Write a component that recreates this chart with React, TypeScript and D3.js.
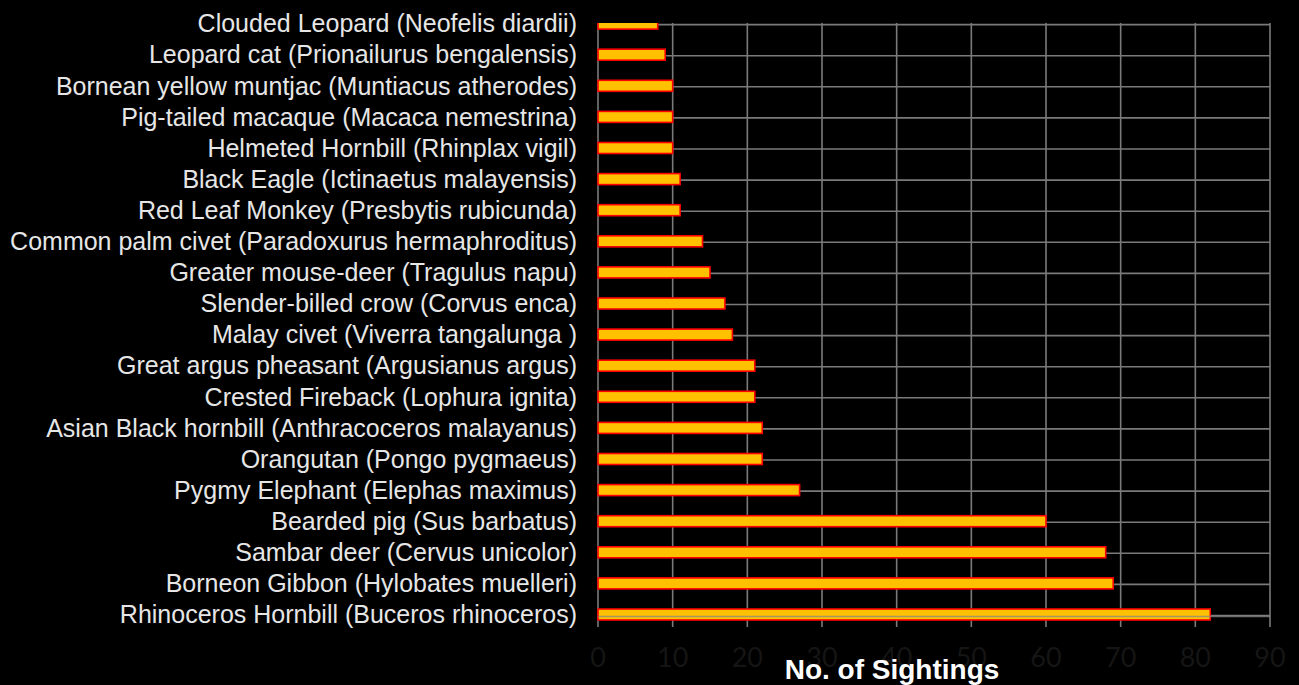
import * as d3 from "d3";
import { useEffect, useRef } from "react";

// species, top to bottom as drawn
const species = [
  "Clouded Leopard (Neofelis diardii)",
  "Leopard cat (Prionailurus bengalensis)",
  "Bornean yellow muntjac (Muntiacus atherodes)",
  "Pig-tailed macaque (Macaca nemestrina)",
  "Helmeted Hornbill (Rhinplax vigil)",
  "Black Eagle (Ictinaetus malayensis)",
  "Red Leaf Monkey (Presbytis rubicunda)",
  "Common palm civet (Paradoxurus hermaphroditus)",
  "Greater mouse-deer (Tragulus napu)",
  "Slender-billed crow (Corvus enca) ",
  "Malay civet (Viverra tangalunga )",
  "Great argus pheasant (Argusianus argus)",
  "Crested Fireback (Lophura ignita)",
  "Asian Black hornbill (Anthracoceros malayanus)",
  "Orangutan (Pongo pygmaeus)",
  "Pygmy Elephant (Elephas maximus)",
  "Bearded pig (Sus barbatus)",
  "Sambar deer (Cervus unicolor)",
  "Borneon Gibbon (Hylobates muelleri)",
  "Rhinoceros Hornbill (Buceros rhinoceros)",
];
const sightings = [8, 9, 10, 10, 10, 11, 11, 14, 15, 17, 18, 21, 21, 22, 22, 27, 60, 68, 69, 82];
const xTicks = [0, 10, 20, 30, 40, 50, 60, 70, 80, 90];
const xTitle = "No. of Sightings";

const W = 1299;
const H = 685;

export default function App() {
  const ref = useRef<SVGSVGElement | null>(null);

  useEffect(() => {
    if (!ref.current) return;
    const svg = d3.select(ref.current);
    svg.selectAll("*").remove();

    const plotTop = 23;
    const plotBottom = 627;
    const x = d3.scaleLinear().domain([0, 90]).range([598, 1270]);
    const y = d3.scalePoint<string>().domain(species).range([23.6, 614.5]);
    const barH = 11;

    svg.append("rect").attr("width", W).attr("height", H).attr("fill", "#000");

    svg
      .append("defs")
      .append("clipPath")
      .attr("id", "plot-clip")
      .append("rect")
      .attr("x", 590)
      .attr("y", plotTop)
      .attr("width", 700)
      .attr("height", plotBottom - plotTop + 5);

    const plot = svg.append("g").attr("clip-path", "url(#plot-clip)");

    // vertical grid
    plot
      .selectAll(".vgrid")
      .data(xTicks)
      .enter()
      .append("line")
      .attr("x1", (d) => x(d))
      .attr("x2", (d) => x(d))
      .attr("y1", plotTop)
      .attr("y2", plotBottom)
      .attr("stroke", "#7a7a7a")
      .attr("stroke-width", 1.6);

    // horizontal grid
    plot
      .selectAll(".hgrid")
      .data(species)
      .enter()
      .append("line")
      .attr("x1", x(0))
      .attr("x2", x(90))
      .attr("y1", (d) => y(d)! + 1)
      .attr("y2", (d) => y(d)! + 1)
      .attr("stroke", "#7a7a7a")
      .attr("stroke-width", 1.6);

    // bars
    plot
      .selectAll(".bar")
      .data(species)
      .enter()
      .append("rect")
      .attr("x", x(0))
      .attr("y", (d) => y(d)! - barH / 2)
      .attr("width", (_, i) => x(sightings[i]) - x(0))
      .attr("height", barH)
      .attr("fill", "#FFC000")
      .attr("stroke", "#FF0000")
      .attr("stroke-width", 1.6);

    // bottom axis line over the last bar
    const last = species[species.length - 1];
    plot
      .append("line")
      .attr("x1", x(0))
      .attr("x2", x(90))
      .attr("y1", y(last)! + 2)
      .attr("y2", y(last)! + 2)
      .attr("stroke", "#8a8a8a")
      .attr("stroke-opacity", 0.75)
      .attr("stroke-width", 1.6);

    // category labels
    svg
      .selectAll(".cat")
      .data(species)
      .enter()
      .append("text")
      .attr("x", 577)
      .attr("y", (d) => y(d)!)
      .attr("dy", "0.35em")
      .attr("text-anchor", "end")
      .attr("font-family", "'Liberation Sans', Arial, sans-serif")
      .attr("font-size", 25)
      .attr("fill", "#e6e6e6")
      .text((d) => d);

    // tick labels (nearly invisible on black)
    svg
      .selectAll(".tick")
      .data(xTicks)
      .enter()
      .append("text")
      .attr("x", (d) => x(d))
      .attr("y", 667)
      .attr("text-anchor", "middle")
      .attr("font-family", "Lato, 'Open Sans', sans-serif")
      .attr("font-size", 27)
      .attr("fill", "#151515")
      .text((d) => d);

    svg
      .append("text")
      .attr("x", 892)
      .attr("y", 679)
      .attr("text-anchor", "middle")
      .attr("font-family", "'Liberation Sans', Arial, sans-serif")
      .attr("font-weight", "bold")
      .attr("font-size", 28)
      .attr("fill", "#ffffff")
      .text(xTitle);
  }, []);

  return (
    <svg
      ref={ref}
      width={W}
      height={H}
      style={{ position: "absolute", left: 0, top: 0, display: "block" }}
    />
  );
}
